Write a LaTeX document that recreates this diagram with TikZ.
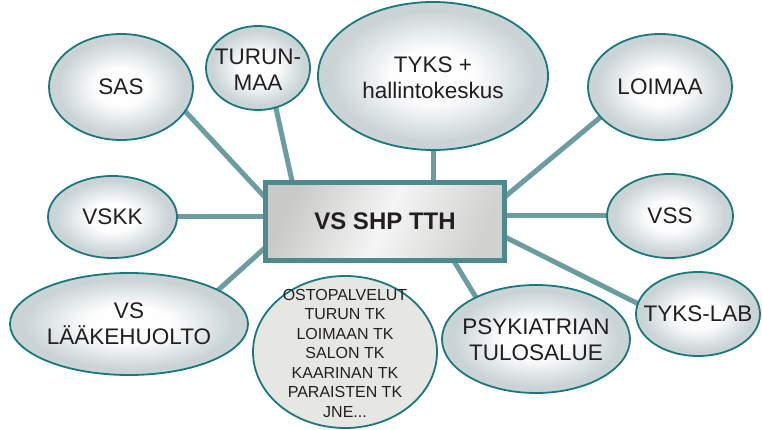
\documentclass[tikz,border=0pt]{standalone}
\usepackage{fontspec}
\setmainfont{Liberation Sans}
\usetikzlibrary{shapes.geometric,calc}
\definecolor{rim}{HTML}{17787E}
\definecolor{conn}{HTML}{6A9CA2}
\definecolor{boxrim}{HTML}{4C8A90}
\definecolor{ink}{HTML}{231F20}
\definecolor{ellout}{HTML}{CAD4D7}
\definecolor{ostofill}{HTML}{E6E7E2}
\definecolor{boxgrey}{HTML}{C9C9C6}
\pgfdeclareradialshading{bubshade}{\pgfpoint{0bp}{0bp}}{color(0bp)=(white); color(9bp)=(white!96!ellout); color(22bp)=(ellout); color(50bp)=(ellout)}
\pgfdeclarelayer{bg}
\pgfsetlayers{bg,main}
\tikzset{
  bubble/.style={ellipse, draw=rim, line width=1.8pt, shading=bubshade, inner sep=0pt},
  txt/.style={text=ink, align=center, inner sep=0pt, font=\fontsize{22.5}{25.5}\selectfont},
  smalltxt/.style={text=ink, align=center, inner sep=0pt, font=\fontsize{16}{19.5}\selectfont},
  conline/.style={draw=conn, line width=5pt, shorten <=-4pt},
}
\begin{document}
\begin{tikzpicture}[x=1pt,y=-1pt]
\useasboundingbox (0,0) rectangle (762,430);
\begin{pgfonlayer}{bg}
\fill[white] (0,0) rectangle (762,430);
\end{pgfonlayer}
% central box
\node[draw=boxrim, line width=5pt, minimum width=239pt, minimum height=78pt, inner sep=0pt,
      left color=boxgrey, right color=boxgrey!85!white, middle color=white!96!black, shading angle=65,
      text=ink, font=\fontsize{24}{28}\selectfont\bfseries] (box) at (385,221.5) {VS SHP TTH};
% bubbles
\node[bubble, minimum width=144pt, minimum height=106pt, label={[txt]center:SAS}] (sas) at (121,87) {};
\node[bubble, minimum width=104pt, minimum height=84pt, label={[txt, yshift=-2pt]center:TURUN-\\MAA}] (turunmaa) at (258,68) {};
\node[bubble, minimum width=230pt, minimum height=148pt, label={[txt, yshift=-2pt]center:TYKS +\\hallintokeskus}] (tyks) at (433,76) {};
\node[bubble, minimum width=144pt, minimum height=106pt, label={[txt]center:LOIMAA}] (loimaa) at (660,87) {};
\node[bubble, minimum width=129pt, minimum height=82pt, label={[txt]center:VSKK}] (vskk) at (112.5,217) {};
\node[bubble, minimum width=126pt, minimum height=84pt, label={[txt]center:VSS}] (vss) at (670,216) {};
\node[bubble, minimum width=238pt, minimum height=102pt, label={[txt]center:VS\\LÄÄKEHUOLTO}] (laake) at (129,324) {};
\node[bubble, minimum width=188pt, minimum height=108pt, label={[txt, yshift=-1pt]center:PSYKIATRIAN\\TULOSALUE}] (psyk) at (536,339) {};
\node[bubble, minimum width=124pt, minimum height=84pt, label={[txt]center:TYKS-LAB}] (tykslab) at (698,314) {};
\node[ellipse, draw=rim, line width=1.8pt, fill=ostofill, inner sep=0pt, minimum width=184pt, minimum height=152pt,
      label={[smalltxt, yshift=-1pt]center:OSTOPALVELUT\\TURUN TK\\LOIMAAN TK\\SALON TK\\KAARINAN TK\\PARAISTEN TK\\JNE...}] (osto) at (345,352) {};
% connectors
\begin{pgfonlayer}{bg}
\draw[conline] (sas.-21) -- ($(box.north west)+(12,28)$);
\draw[conline] (turunmaa.-66) -- ($(box.north west)+(31,10)$);
\draw[conline] (tyks.south) -- (tyks.south |- box.center);
\draw[conline] (loimaa.207) -- ($(box.north east)+(-12,25)$);
\draw[conline] (vskk.east) -- (vskk.east -| box.center);
\draw[conline] (vss.west) -- (vss.west -| box.center);
\draw[conline] (laake.21) -- ($(box.south west)+(14,-26)$);
\draw[conline] (psyk.145) -- ($(box.south west)+(186,-10)$);
\draw[conline] (tykslab.170) -- ($(box.north east)+(-12,52)$);
\end{pgfonlayer}
\end{tikzpicture}
\end{document}
